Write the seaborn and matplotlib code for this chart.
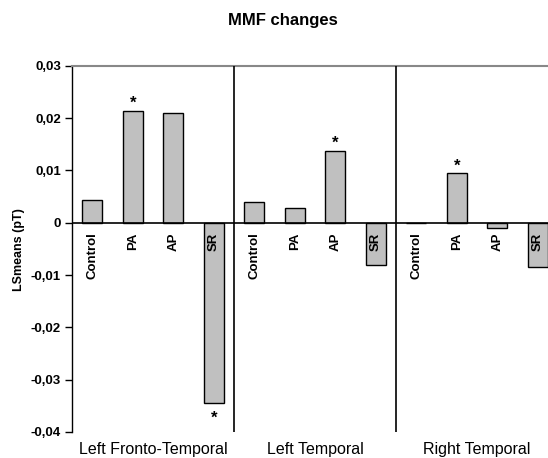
import numpy as np
import pandas as pd
import seaborn as sns
import matplotlib.pyplot as plt
import matplotlib.ticker as mticker

regions = ["Left Fronto-Temporal", "Left Temporal", "Right Temporal"]
conditions = ["Control", "PA", "AP", "SR"]
values = [
    [0.0043, 0.0213, 0.0209, -0.0344],
    [0.0040, 0.0028, 0.0137, -0.0081],
    [0.0000, 0.0094, -0.0010, -0.0084],
]
significant = [
    [False, True, False, True],
    [False, False, True, False],
    [False, True, False, False],
]

rows = []
for r, reg in enumerate(regions):
    for c, cond in enumerate(conditions):
        rows.append({"slot": f"{reg}|{cond}", "region": reg, "cond": cond,
                     "value": values[r][c], "sig": significant[r][c]})
df = pd.DataFrame(rows)

sns.set_style("white")
plt.rcParams["font.family"] = ["Liberation Sans", "DejaVu Sans"]
plt.rcParams.update({"text.color": "black", "axes.labelcolor": "black",
                     "xtick.color": "black", "ytick.color": "black"})

fig = plt.figure(figsize=(5.48, 4.58), dpi=100)
ax = fig.add_axes([72 / 548, 1 - 432 / 458, (558 - 72) / 548, (432 - 65.7) / 458])

sns.barplot(data=df, x="slot", y="value", order=df["slot"], color="#c0c0c0",
            edgecolor="black", linewidth=1, width=0.5, saturation=1, ax=ax)

ax.set_xlim(-0.5, len(df) - 0.5)
ax.set_ylim(-0.04, 0.03)
ax.yaxis.set_major_locator(mticker.MultipleLocator(0.01))
ax.yaxis.set_major_formatter(mticker.FuncFormatter(
    lambda v, p: "0" if abs(v) < 1e-9 else f"{v:.2f}".replace(".", ",")))
ax.tick_params(axis="y", direction="out", length=5, width=1, color="black",
               labelcolor="black", labelsize=9.5, pad=3, left=True)
for lab in ax.get_yticklabels():
    lab.set_fontweight("bold")

ax.axhline(0, color="black", lw=1.2, zorder=3)
for sep in [3.5, 7.5]:
    ax.axvline(sep, color="black", lw=1.2, zorder=3)

for s in ["right", "bottom"]:
    ax.spines[s].set_visible(False)
ax.spines["top"].set_color("#888888")
ax.spines["top"].set_linewidth(1.5)
ax.spines["left"].set_color("black")
ax.spines["left"].set_linewidth(1)

# group labels on the x axis
nc = len(conditions)
ax.set_xticks([r * nc + (nc - 1) / 2 for r in range(len(regions))])
ax.set_xticklabels(regions, fontsize=11.5, color="black")
ax.tick_params(axis="x", length=0, pad=7)
ax.set_xlabel("")
ax.set_ylabel("")

for i, row in df.iterrows():
    ax.annotate(row["cond"], (i, 0), xytext=(0, -7), textcoords="offset points",
                rotation=90, ha="center", va="top", fontsize=9.5, fontweight="bold",
                color="black")
    if row["sig"]:
        if row["value"] >= 0:
            ax.annotate("*", (i, row["value"]), xytext=(0, 0), textcoords="offset points",
                        ha="center", va="bottom", fontsize=12, fontweight="bold",
                        color="black")
        else:
            ax.annotate("*", (i, row["value"]), xytext=(0, -6), textcoords="offset points",
                        ha="center", va="top", fontsize=12, fontweight="bold",
                        color="black")

fig.text(19.5 / 548, 1 - 250 / 458, "LSmeans (pT)", rotation=90, ha="center",
         va="center", fontsize=9, fontweight="bold", color="black")
fig.text(282.5 / 548, 1 - 21 / 458, "MMF changes", ha="center", va="center",
         fontsize=12, fontweight="bold", color="black")

fig.savefig("out.png", dpi=100)
